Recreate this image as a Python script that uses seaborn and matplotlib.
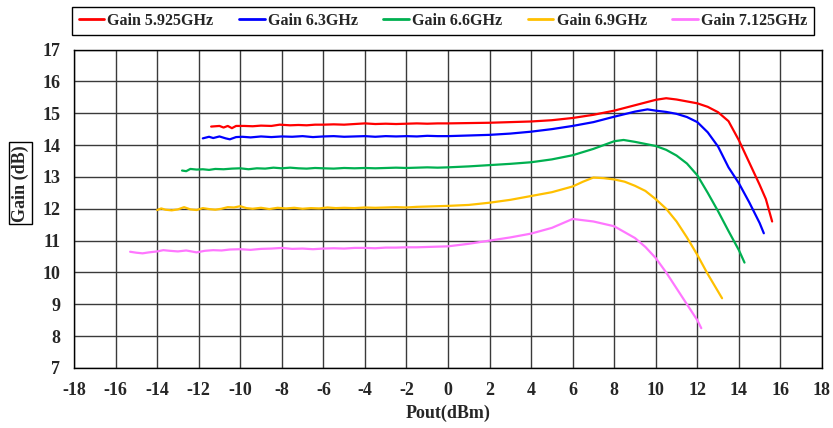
import numpy as np
import pandas as pd
import matplotlib
matplotlib.use("Agg")
import matplotlib.pyplot as plt
import seaborn as sns

series_names = ["Gain 5.925GHz", "Gain 6.3GHz", "Gain 6.6GHz", "Gain 6.9GHz", "Gain 7.125GHz"]
colors = ["#FF0000", "#0000FF", "#00B050", "#FFC000", "#FF77FF"]

x_red = [-11.4, -11.0, -10.8, -10.6, -10.4, -10.2, -9.8, -9.4, -9.0, -8.5, -8.1, -7.6, -7.2, -6.8, -6.4, -6.0,
         -5.5, -5.0, -4.5, -4.0, -3.5, -3.0, -2.5, -2.0, -1.5, -1.0, -0.5, 0.0,
         1, 2, 3, 4, 5, 6, 7, 8, 9, 10, 10.5, 11, 12, 12.5, 13, 13.5, 14, 14.5, 15, 15.3, 15.6]
y_red = [14.58, 14.60, 14.55, 14.60, 14.53, 14.60, 14.60, 14.59, 14.61, 14.60, 14.64, 14.62, 14.63, 14.62, 14.64, 14.64,
         14.65, 14.64, 14.66, 14.68, 14.66, 14.67, 14.66, 14.67, 14.68, 14.67, 14.68, 14.68,
         14.69, 14.70, 14.72, 14.74, 14.78, 14.85, 14.95, 15.08, 15.25, 15.42, 15.47, 15.43, 15.31, 15.2, 15.03, 14.75, 14.15, 13.45, 12.75, 12.3, 11.6]

x_blue = [-11.8, -11.5, -11.3, -11.0, -10.7, -10.5, -10.2, -9.9, -9.5, -9.0, -8.5, -8.0, -7.5, -7.0, -6.5, -6.0,
          -5.5, -5.0, -4.5, -4.0, -3.5, -3.0, -2.5, -2.0, -1.5, -1.0, -0.5, 0.0,
          1, 2, 3, 4, 5, 6, 7, 8, 9, 9.6, 10, 10.5, 11, 11.5, 12, 12.5, 13, 13.5, 14, 14.5, 15, 15.2]
y_blue = [14.21, 14.26, 14.22, 14.27, 14.21, 14.18, 14.25, 14.26, 14.24, 14.27, 14.25, 14.27, 14.26, 14.28, 14.25, 14.27,
          14.28, 14.26, 14.27, 14.28, 14.26, 14.28, 14.27, 14.28, 14.27, 14.29, 14.28, 14.28,
          14.30, 14.32, 14.36, 14.42, 14.50, 14.60, 14.72, 14.89, 15.05, 15.12, 15.08, 15.04, 14.98, 14.88, 14.72, 14.4, 13.95, 13.3, 12.8, 12.2, 11.55, 11.23]

x_green = [-12.8, -12.6, -12.4, -12.1, -11.8, -11.5, -11.2, -10.8, -10.4, -10.0, -9.6, -9.2, -8.8, -8.4, -8.0, -7.6,
           -7.2, -6.8, -6.4, -6.0, -5.5, -5.0, -4.5, -4.0, -3.5, -3.0, -2.5, -2.0, -1.5, -1.0, -0.5, 0.0,
           1, 2, 3, 4, 5, 6, 7, 8, 8.45, 9, 10, 10.5, 11, 11.5, 12, 12.5, 13, 13.5, 14, 14.27]
y_green = [13.20, 13.18, 13.25, 13.23, 13.24, 13.22, 13.25, 13.24, 13.26, 13.27, 13.24, 13.27, 13.26, 13.29, 13.27, 13.29,
           13.27, 13.26, 13.28, 13.27, 13.26, 13.28, 13.27, 13.28, 13.27, 13.28, 13.29, 13.28, 13.29, 13.30, 13.29, 13.30,
           13.33, 13.37, 13.41, 13.46, 13.55, 13.68, 13.88, 14.12, 14.16, 14.10, 13.97, 13.85, 13.67, 13.42, 13.05, 12.5, 11.92, 11.3, 10.7, 10.31]

x_yellow = [-14.0, -13.8, -13.6, -13.3, -13.0, -12.7, -12.4, -12.1, -11.8, -11.5, -11.2, -10.9, -10.6, -10.3, -10.0,
            -9.7, -9.4, -9.0, -8.6, -8.2, -7.8, -7.4, -7.0, -6.6, -6.2, -5.8, -5.4, -5.0, -4.5, -4.0, -3.5, -3.0,
            -2.5, -2.0, -1.5, -1.0, -0.5, 0.0,
            1, 2, 3, 4, 5, 6, 6.5, 7, 7.5, 8, 8.5, 9, 9.5, 10, 10.5, 11, 11.5, 12, 12.5, 13, 13.19]
y_yellow = [11.96, 12.01, 11.97, 11.95, 11.98, 12.05, 11.98, 11.96, 12.02, 11.99, 11.97, 12.00, 12.05, 12.04, 12.08,
            12.02, 12.00, 12.03, 11.99, 12.03, 12.01, 12.03, 12.00, 12.02, 12.01, 12.04, 12.02, 12.03, 12.02, 12.04, 12.03, 12.04,
            12.05, 12.04, 12.06, 12.07, 12.08, 12.09,
            12.12, 12.19, 12.28, 12.40, 12.52, 12.70, 12.85, 12.98, 12.96, 12.92, 12.85, 12.72, 12.56, 12.30, 12.0, 11.6, 11.1, 10.55, 9.95, 9.4, 9.19]

x_pink = [-15.3, -15.0, -14.7, -14.4, -14.0, -13.7, -13.4, -13.0, -12.6, -12.1, -11.7, -11.3, -10.9, -10.5, -10.0,
          -9.5, -9.0, -8.5, -8.0, -7.5, -7.0, -6.5, -6.0, -5.5, -5.0, -4.5, -4.0, -3.5, -3.0, -2.5, -2.0, -1.5, -1.0, -0.5, 0.0,
          1, 2, 3, 4, 5, 6, 7, 8, 9, 9.5, 10, 10.5, 11, 11.5, 12, 12.19]
y_pink = [10.65, 10.62, 10.60, 10.63, 10.66, 10.70, 10.68, 10.66, 10.69, 10.63, 10.68, 10.70, 10.69, 10.72, 10.73,
          10.71, 10.74, 10.75, 10.77, 10.74, 10.75, 10.73, 10.75, 10.76, 10.75, 10.77, 10.77, 10.76, 10.78, 10.78, 10.79, 10.79, 10.80, 10.81, 10.82,
          10.90, 11.00, 11.10, 11.22, 11.40, 11.68, 11.60, 11.45, 11.08, 10.80, 10.45, 10.00, 9.50, 9.00, 8.50, 8.25]

x_ticks = list(range(-18, 19, 2))
y_ticks = list(range(7, 18))

xs = [x_red, x_blue, x_green, x_yellow, x_pink]
ys = [y_red, y_blue, y_green, y_yellow, y_pink]
frames = []
for name, xv, yv in zip(series_names, xs, ys):
    frames.append(pd.DataFrame({"Pout": xv, "Gain": yv, "series": name, "order": np.arange(len(xv))}))
df = pd.concat(frames, ignore_index=True)

sns.set_style("white")
plt.rcParams["font.family"] = ["Liberation Serif", "DejaVu Serif"]
plt.rcParams["font.weight"] = "bold"

fig = plt.figure(figsize=(8.33, 4.28), dpi=100)
ax = fig.add_axes([74 / 833, 1 - 368 / 428, 748 / 833, (368 - 49.5) / 428])

sns.lineplot(data=df, x="Pout", y="Gain", hue="series", hue_order=series_names,
             palette=colors, sort=False, estimator=None, units="series", linewidth=1.6, ax=ax, legend=True)

ax.set_xlim(-18, 18)
ax.set_ylim(7, 17)
ax.set_xticks(x_ticks)
ax.set_yticks(y_ticks)
ax.set_xticklabels([str(v) for v in x_ticks], fontsize=13, fontweight="bold")
ax.set_yticklabels([str(v) for v in y_ticks], fontsize=13, fontweight="bold")
ax.tick_params(axis="both", length=0)
ax.tick_params(axis="x", pad=10)
ax.tick_params(axis="y", pad=10)
ax.grid(True, color="#3a3a3a", linewidth=1.0)
ax.set_axisbelow(True)
for s in ax.spines.values():
    s.set_color("black")
    s.set_linewidth(1.0)

ax.set_xlabel("Pout(dBm)", fontsize=13, fontweight="bold", labelpad=4)
ax.set_ylabel("Gain (dB)", fontsize=13, fontweight="bold", labelpad=8,
              bbox=dict(boxstyle="square,pad=0.15", fc="white", ec="black", lw=1))
ax.yaxis.set_label_coords(-0.06, 0.58)

handles, labels = ax.get_legend_handles_labels()
ax.get_legend().remove()
leg = fig.legend(handles, labels, loc="center", ncol=5,
                 bbox_to_anchor=(443 / 833, 1 - 21 / 428),
                 frameon=True, fancybox=False, edgecolor="black", framealpha=1,
                 prop={"family": "Liberation Serif", "weight": "bold", "size": 11.5},
                 handlelength=1.6, handletextpad=0.2, columnspacing=1.6, borderpad=0.4)
leg.get_frame().set_linewidth(1.0)
for line in leg.get_lines():
    line.set_linewidth(2.0)

fig.savefig("out.png", dpi=100)
